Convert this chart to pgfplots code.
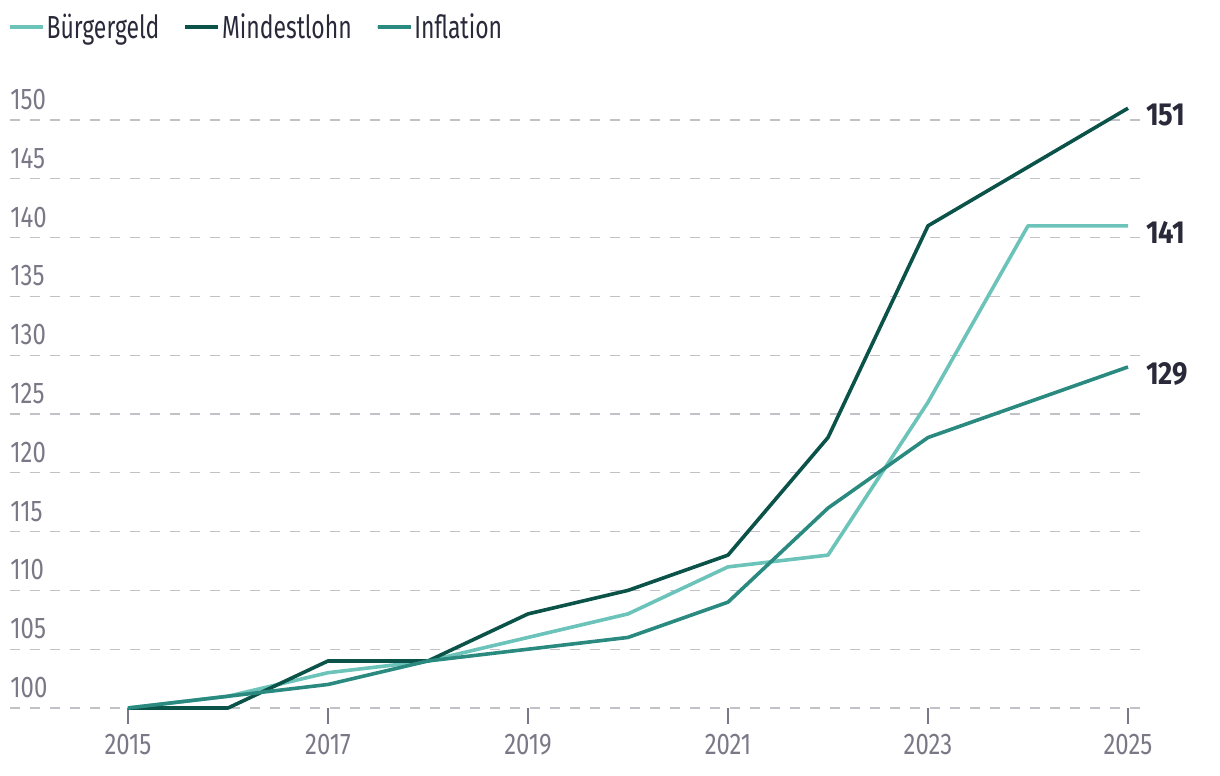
\documentclass[border=0pt]{standalone}
\usepackage{fontspec}
\setmainfont{Fira Sans}[FakeStretch=0.8]
\newfontfamily\legendfont{Fira Sans}[FakeStretch=0.72]
\newfontfamily\endfont{Fira Sans}[FakeStretch=0.86]
\usepackage{pgfplots}
\pgfplotsset{compat=1.18}
\definecolor{cBuerger}{HTML}{6CC3B9}
\definecolor{cMindest}{HTML}{0B5249}
\definecolor{cInfl}{HTML}{2A8A7F}
\definecolor{cGrid}{HTML}{C2C1C7}
\definecolor{cTick}{HTML}{7A7886}
\definecolor{cText}{HTML}{2A2939}
\pgfplotstableread{
year buerger mindest infl
2015 100 100 100
2016 101 100 101
2017 103 104 102
2018 104 104 104
2019 106 108 105
2020 108 110 106
2021 112 113 109
2022 113 123 117
2023 126 141 123
2024 141 146 126
2025 141 151 129
}\datatable
\begin{document}
\begin{tikzpicture}
\begin{axis}[
  scale only axis, width=1130bp, height=608bp,
  xmin=2013.82, xmax=2025.12, ymin=100, ymax=151.7,
  clip=false,
  axis line style={draw=none},
  xtick={2015,2017,...,2025},
  ytick={100,105,...,150},
  /pgf/number format/1000 sep={},
  /pgf/number format/assume math mode=true,
  tick align=outside,
  major tick length=16bp,
  xtick pos=bottom, ytick pos=left,
  x tick style={cTick, line width=2bp},
  y tick style={draw=none},
  xticklabel style={font=\fontsize{30}{30}\selectfont, text=cTick, inner sep=0pt, yshift=-10bp},
  yticklabel style={anchor=south west, inner sep=0pt, xshift=16bp, yshift=10bp, font=\fontsize{30}{30}\selectfont, text=cTick},
  ymajorgrids,
  grid style={cGrid, line width=1.3bp, dash pattern=on 10bp off 10bp},
  legend style={draw=none, fill=none, at={(rel axis cs:0,1)}, anchor=west, xshift=-2bp, yshift=73bp,
    inner sep=0pt, outer sep=0pt, font=\legendfont\fontsize{32}{32}\selectfont, text=cText,
    /tikz/every even column/.append style={column sep=22bp}},
  legend columns=3,
  legend image code/.code={\draw[#1, line cap=round] (1.8bp,0bp) -- (23.2bp,0bp); \path (0bp,0bp) -- (33bp,0bp);},
  every axis plot/.append style={line width=3.6bp, line join=round},
]
\addplot[cBuerger] table[x=year, y=buerger] {\datatable};
\addlegendentry{Bürgergeld}
\addplot[cMindest] table[x=year, y=mindest] {\datatable};
\addlegendentry{Mindestlohn}
\addplot[cInfl] table[x=year, y=infl] {\datatable};
\addlegendentry{Inflation}
\node[anchor=west, inner sep=0pt, xshift=18bp, yshift=-7bp, text=cText, font=\endfont\bfseries\fontsize{32}{32}\selectfont] at (axis cs:2025,151) {151};
\node[anchor=west, inner sep=0pt, xshift=18bp, yshift=-7bp, text=cText, font=\endfont\bfseries\fontsize{32}{32}\selectfont] at (axis cs:2025,141) {141};
\node[anchor=west, inner sep=0pt, xshift=18bp, yshift=-7bp, text=cText, font=\endfont\bfseries\fontsize{32}{32}\selectfont] at (axis cs:2025,129) {129};
\end{axis}
\pgfresetboundingbox
\path[use as bounding box] (current axis.south west) ++(-10bp,-68bp) rectangle ++(1220bp,776bp);
\end{tikzpicture}
\end{document}
